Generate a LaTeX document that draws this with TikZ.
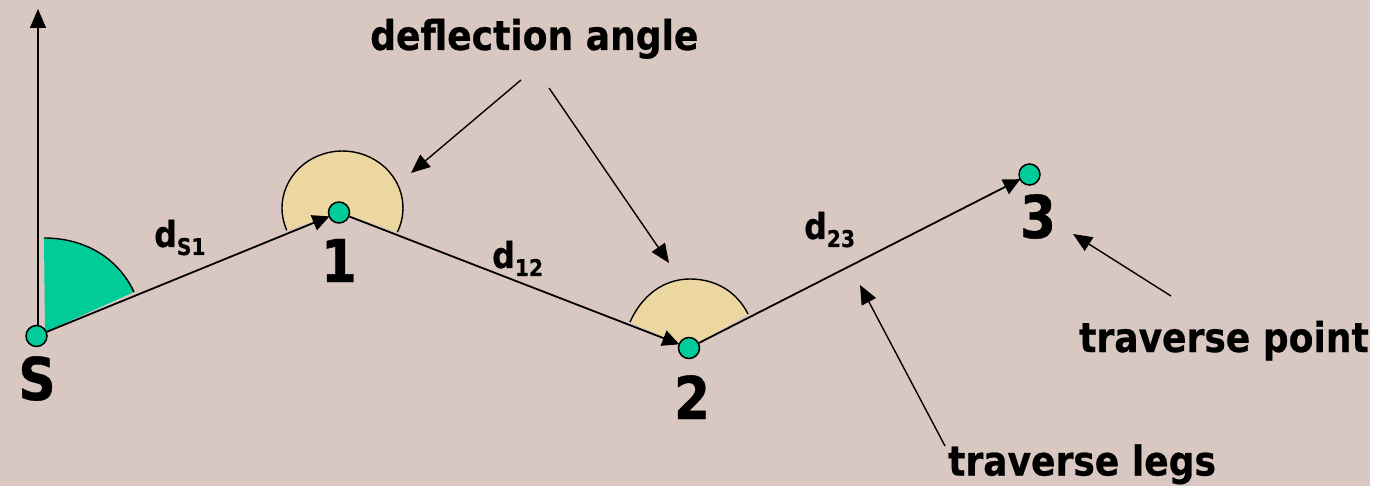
\documentclass[tikz,border=0pt]{standalone}
\usepackage{fontspec}
\setmainfont{DejaVu Sans}[FakeStretch=0.88,BoldFeatures={FakeBold=0.6}]
\usetikzlibrary{arrows.meta}
\definecolor{bgc}{RGB}{217,200,193}
\definecolor{greenc}{RGB}{0,204,153}
\definecolor{sandc}{RGB}{236,215,160}
\tikzset{
  x=1pt,y=-1pt,
  pt/.style={circle,draw=black,line width=1.5pt,fill=greenc,minimum size=21pt,inner sep=0pt},
  leg/.style={line width=1.8pt,-{Triangle[length=17pt,width=16pt]},shorten >=-1pt},
  call/.style={line width=1.4pt,-{Triangle[length=19pt,width=16pt]}},
  lab/.style={font=\fontsize{41}{41}\selectfont\bfseries,inner sep=0pt,anchor=base west},
  dlab/.style={font=\fontsize{36}{36}\selectfont\bfseries,inner sep=0pt,anchor=base west},
  big/.style={font=\fontsize{59}{59}\selectfont\bfseries,inner sep=0pt,anchor=base},
}
\newcommand{\subtxt}[1]{\raisebox{-8pt}{\fontsize{23}{23}\selectfont #1}}
\begin{document}
\begin{tikzpicture}
\useasboundingbox (0,0) rectangle (1391,486);
\fill[white] (0,0) rectangle (1391,486);
\fill[bgc] (0,0) rectangle (1370,486);
% wedges
\fill[greenc] (44,238) .. controls (85,238) and (118,258) .. (134,292) -- (45,332) -- cycle;
\draw[line width=1.4pt] (44,238) .. controls (85,238) and (118,258) .. (134,292);
\fill[sandc] (286.8,230.3) arc[start angle=157,end angle=385,x radius=60.5,y radius=57] -- (339,212) -- cycle;
\draw[line width=1.4pt] (286.8,230.3) arc[start angle=157,end angle=385,x radius=60.5,y radius=57];
\fill[sandc] (630,322) .. controls (642,295) and (664,279) .. (690,279) .. controls (716,279) and (737,292) .. (748,314) -- (689,348) -- cycle;
\draw[line width=1.4pt] (630,322) .. controls (642,295) and (664,279) .. (690,279) .. controls (716,279) and (737,292) .. (748,314);
% points
\node[pt] (S) at (36.5,336) {};
\node[pt] (P1) at (339,212.5) {};
\node[pt] (P2) at (689,348) {};
\node[pt] (P3) at (1029.5,174.5) {};
\coordinate (north) at (38,9);
\draw[call] (S.north -| north) -- (north);
\draw[leg] (S) -- (P1);
\draw[leg] (P1) -- (P2);
\draw[leg] (P2) -- (P3);
% labels
\node[big] (LS) at (37,400) {S};
\node[big] (L1) at (339,282) {1};
\node[big] (L2) at (692,419) {2};
\node[big] (L3) at (1038,238) {3};
\node[dlab] (dS) at (154,247) {d\subtxt{S1}};
\node[dlab] (d12) at (492,268) {d\subtxt{12}};
\node[dlab] (d23) at (804,239) {d\subtxt{23}};
\node[lab] (defl) at (370,50) {deflection angle};
\node[lab] (tlegs) at (948,475.5) {traverse legs};
\node[lab] (tpoint) at (1079,352) {traverse point};
% callouts
\coordinate (a1s) at (521,80); \coordinate (a1e) at (411,173);
\coordinate (a2s) at (549,88); \coordinate (a2e) at (669,263);
\coordinate (a3s) at (945,446); \coordinate (a3e) at (860,285);
\coordinate (a4s) at (1171,296); \coordinate (a4e) at (1073,234);
\draw[call] (a1s) -- (a1e);
\draw[call] (a2s) -- (a2e);
\draw[call] (a3s) -- (a3e);
\draw[call] (a4s) -- (a4e);
\end{tikzpicture}
\end{document}
